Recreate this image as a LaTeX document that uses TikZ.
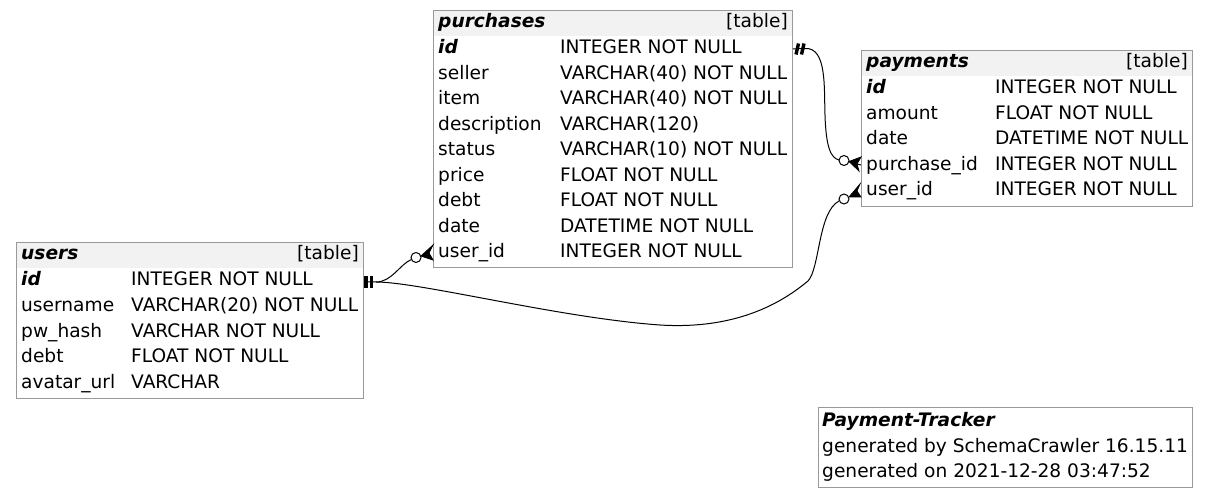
\documentclass[tikz,border=0pt]{standalone}
\usepackage{fontspec}
\usetikzlibrary{calc}
\setmainfont{DejaVu Sans}
\definecolor{bord}{HTML}{999999}
\definecolor{hdrfill}{HTML}{F2F2F2}
\newcommand\dfont{\fontsize{18.6}{22}\selectfont}
\begin{document}
\begin{tikzpicture}[x=1pt,y=-1pt,font=\dfont,
  tbox/.style n args={2}{draw=bord,line width=1pt,inner sep=0pt,anchor=north west,minimum width=#1,minimum height=#2},
  txt/.style={anchor=base west,inner sep=0pt},
  txr/.style={anchor=base east,inner sep=0pt},
  nm/.style={txt,font=\dfont\bfseries\itshape},
  edge/.style={draw=black,line width=1pt},
  tee/.style={draw=black,line width=3.4pt},
  odot/.style={draw=black,fill=white,line width=1pt},
  crowf/.style={draw=black,fill=black,line width=0.8pt,line join=miter}]
\useasboundingbox (0,0) rectangle (1208,497);

% ---------------- purchases
\fill[hdrfill] (433.5,10.5) rectangle (791.5,36);
\node[tbox={359pt}{257pt}] (purchases) at (433,10) {};
\node[nm] (pur-title) at (438,28) {purchases};
\node[txr] (pur-tag) at (788,28) {[table]};
\node[nm] (pur-id) at (438,54) {id};
\node[txt] (pur-idt) at (560,54) {INTEGER NOT NULL};
\foreach \n/\t [count=\i from 0] in {seller/VARCHAR(40) NOT NULL,item/VARCHAR(40) NOT NULL,description/VARCHAR(120),status/VARCHAR(10) NOT NULL,price/FLOAT NOT NULL,debt/FLOAT NOT NULL,date/DATETIME NOT NULL,user\_id/INTEGER NOT NULL}{
  \node[txt] (pur-n\i) at (438,{79.5+25.5*\i}) {\n};
  \node[txt] (pur-t\i) at (560,{79.5+25.5*\i}) {\t};
}

% ---------------- payments
\fill[hdrfill] (861.5,50.5) rectangle (1191.5,76);
\node[tbox={331pt}{156pt}] (payments) at (861,50) {};
\node[nm] (pay-title) at (866,68) {payments};
\node[txr] (pay-tag) at (1188,68) {[table]};
\node[nm] (pay-id) at (866,94) {id};
\node[txt] (pay-idt) at (995,94) {INTEGER NOT NULL};
\foreach \n/\t [count=\i from 0] in {amount/FLOAT NOT NULL,date/DATETIME NOT NULL,purchase\_id/INTEGER NOT NULL,user\_id/INTEGER NOT NULL}{
  \node[txt] (pay-n\i) at (866,{119.5+25.5*\i}) {\n};
  \node[txt] (pay-t\i) at (995,{119.5+25.5*\i}) {\t};
}

% ---------------- users
\fill[hdrfill] (16.5,242.5) rectangle (362.5,268);
\node[tbox={347pt}{156pt}] (users) at (16,242) {};
\node[nm] (usr-title) at (21,260) {users};
\node[txr] (usr-tag) at (359,260) {[table]};
\node[nm] (usr-id) at (21,286) {id};
\node[txt] (usr-idt) at (131,286) {INTEGER NOT NULL};
\foreach \n/\t [count=\i from 0] in {username/VARCHAR(20) NOT NULL,pw\_hash/VARCHAR NOT NULL,debt/FLOAT NOT NULL,avatar\_url/VARCHAR}{
  \node[txt] (usr-n\i) at (21,{311.5+25.5*\i}) {\n};
  \node[txt] (usr-t\i) at (131,{311.5+25.5*\i}) {\t};
}

% ---------------- footer
\node[tbox={374pt}{80pt}] (footer) at (818,407) {};
\node[nm] (ft1) at (822,426) {Payment-Tracker};
\node[txt] (ft2) at (822,452) {generated by SchemaCrawler 16.15.11};
\node[txt] (ft3) at (822,477) {generated on 2021-12-28 03:47:52};

% ---------------- ports
\coordinate (pidR) at (purchases.east |- 0,49);
\coordinate (puidL) at (purchases.west |- 0,253);
\coordinate (ypurL) at (payments.west |- 0,165);
\coordinate (yuidL) at (payments.west |- 0,190);
\coordinate (uidR) at (users.east |- 0,282);

% ---------------- purchases.id -> payments.purchase_id
\draw[edge] (pidR) -- (805,48.5) .. controls (827,47) and (824,88) .. (825,115) .. controls (826,148) and (831,158) .. (839,160);
\draw[tee] (796,54.5) -- (798.5,43.5);
\draw[tee] (801.5,54.5) -- (804,43.5);
\draw[odot] (844,160.5) circle (5pt);
\draw[crowf] (849,161.5) -- ($(ypurL)+(0,-8)$) -- ($(ypurL)+(-4,-1)$) -- ($(ypurL)+(-2,6)$) -- cycle;
\draw[edge] ($(ypurL)+(-4,-1)$) -- (ypurL);

% ---------------- users.id -> purchases.user_id
\draw[edge] (uidR) -- (376,282) .. controls (392,282) and (400,264) .. (411.5,259.5);
\draw[tee] (366,276) -- (366,288);
\draw[tee] (371.5,276) -- (371.5,288);
\draw[odot] (416,257.5) circle (5pt);
\draw[crowf] (421,256) -- ($(puidL)+(0,-8)$) -- ($(puidL)+(-4,0)$) -- ($(puidL)+(0,7)$) -- cycle;

% ---------------- users.id -> payments.user_id
\draw[edge] (376,282) .. controls (420,282) and (560,318) .. (660,325) .. controls (740,330) and (785,300) .. (808,281) .. controls (820,268) and (818,212) .. (839,201);
\draw[odot] (844,199) circle (5pt);
\draw[crowf] (849,197) -- ($(yuidL)+(-1,-6)$) -- ($(yuidL)+(-4,1)$) -- ($(yuidL)+(0,7)$) -- cycle;
\end{tikzpicture}
\end{document}
